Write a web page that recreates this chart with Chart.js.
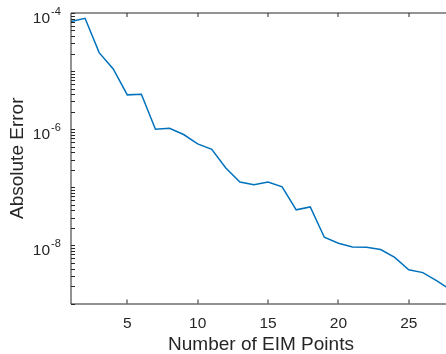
<!DOCTYPE html>
<html>
<head>
<meta charset="utf-8">
<script src="https://cdn.jsdelivr.net/npm/chart.js@4.4.1/dist/chart.umd.min.js"></script>
<style>
  html, body { margin: 0; padding: 0; background: #fff; overflow: hidden; width: 446px; height: 354px; }
  canvas { display: block; }
</style>
</head>
<body>
<canvas id="c" width="451" height="354"></canvas>
<script>
// ---- data ----
const eimPoints = [1, 2, 3, 4, 5, 6, 7, 8, 9, 10, 11, 12, 13, 14, 15, 16, 17, 18, 19, 20, 21, 22, 23, 24, 25, 26, 27, 28];
const absError = [7.1e-5, 8.1e-5, 2.08e-5, 1.09e-5, 3.9e-6, 4.0e-6, 1.0e-6, 1.04e-6, 8.1e-7, 5.6e-7,
                  4.5e-7, 2.15e-7, 1.23e-7, 1.11e-7, 1.23e-7, 1.02e-7, 4.1e-8, 4.6e-8, 1.38e-8, 1.09e-8,
                  9.4e-9, 9.3e-9, 8.5e-9, 6.2e-9, 3.8e-9, 3.4e-9, 2.45e-9, 1.7e-9];
const xTicks = [5, 10, 15, 20, 25];
const yLabelExps = [-4, -6, -8];
const yDecades = [-9, -8, -7, -6, -5, -4];
const xTitle = 'Number of EIM Points';
const yTitle = 'Absolute Error';

const FONT = '"Liberation Sans", Arial, Helvetica, sans-serif';
const TXT = '#262626';

const axesPlugin = {
  id: 'matlabAxes',
  afterDraw(chart) {
    const ctx = chart.ctx;
    const a = chart.chartArea;
    const xs = chart.scales.x, ys = chart.scales.y;
    ctx.save();
    ctx.strokeStyle = '#262626';
    ctx.lineWidth = 1;
    // box
    ctx.beginPath();
    ctx.rect(Math.round(a.left), Math.round(a.top), Math.round(a.right) - Math.round(a.left), Math.round(a.bottom) - Math.round(a.top));
    ctx.stroke();
    // x ticks (bottom up, top down)
    const tl = 4;
    ctx.beginPath();
    xTicks.forEach(v => {
      const px = Math.round(xs.getPixelForValue(v));
      ctx.moveTo(px, a.bottom); ctx.lineTo(px, a.bottom - tl);
      ctx.moveTo(px, a.top); ctx.lineTo(px, a.top + tl);
    });
    // y ticks: decades + minor
    yDecades.forEach(e => {
      for (let k = 1; k <= 9; k++) {
        const v = k * Math.pow(10, e);
        if (v > 1e-4 * 1.0001) continue;
        const py = Math.round(ys.getPixelForValue(v)) + 0.5;
        ctx.moveTo(a.left, py); ctx.lineTo(a.left + tl, py);
        ctx.moveTo(a.right, py); ctx.lineTo(a.right - tl, py);
      }
    });
    ctx.stroke();
    // y tick labels with superscripts
    ctx.fillStyle = TXT;
    yLabelExps.forEach(e => {
      const py = ys.getPixelForValue(Math.pow(10, e));
      ctx.font = '15.5px ' + FONT;
      ctx.textAlign = 'right';
      ctx.textBaseline = 'alphabetic';
      ctx.fillText('10', 50, py + 10);
      ctx.font = '11px ' + FONT;
      ctx.textAlign = 'left';
      ctx.fillText('-' + Math.abs(e), 51, py + 1.5);
    });
    ctx.restore();
  }
};

new Chart(document.getElementById('c'), {
  type: 'line',
  data: {
    labels: eimPoints,
    datasets: [{
      data: eimPoints.map((x, i) => ({ x: x, y: absError[i] })),
      borderColor: '#0072BD',
      borderWidth: 1.5,
      pointRadius: 0,
      tension: 0,
      fill: false
    }]
  },
  options: {
    responsive: false,
    devicePixelRatio: 1,
    animation: false,
    layout: { padding: { top: 13, right: 0, left: 0, bottom: 0 } },
    plugins: { legend: { display: false }, tooltip: { enabled: false } },
    scales: {
      x: {
        type: 'linear',
        min: 1, max: 28,
        afterBuildTicks: s => { s.ticks = xTicks.map(v => ({ value: v })); },
        afterFit: s => { s.height = 50.5; },
        grid: { display: false },
        border: { display: false },
        ticks: { color: TXT, font: { family: FONT, size: 15.5 }, padding: 3, maxRotation: 0 },
        title: { display: true, text: xTitle, color: TXT, font: { family: FONT, size: 19, lineHeight: 1 }, padding: { top: 0, bottom: 0 } }
      },
      y: {
        type: 'logarithmic',
        min: 1e-9, max: 1e-4,
        afterFit: s => { s.width = 71; },
        grid: { display: false },
        border: { display: false },
        ticks: { display: false },
        title: { display: true, text: yTitle, color: TXT, font: { family: FONT, size: 19, lineHeight: 1 }, padding: { top: 8, bottom: 0 } }
      }
    }
  },
  plugins: [axesPlugin]
});
</script>
</body>
</html>
